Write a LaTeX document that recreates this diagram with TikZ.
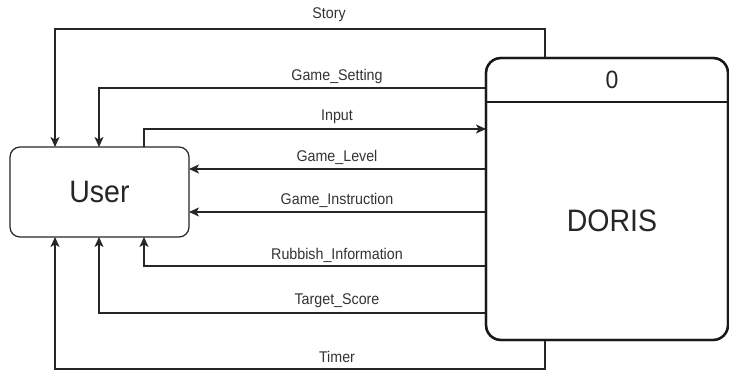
\documentclass[tikz,border=0pt]{standalone}
\usepackage{fontspec}
\setmainfont{Liberation Sans}
\newfontfamily\lblfont[FakeStretch=0.92]{Liberation Sans}
\usetikzlibrary{arrows.meta}
\tikzset{
  conn/.style={draw=black!85, line width=1.1pt},
  arr/.style={conn, -{Stealth[length=10pt,width=9pt,inset=2.5pt]}},
  flowlbl/.style={font=\lblfont\fontsize{15.5}{17}\selectfont, text=black!80, inner sep=0pt},
  bigtext/.style={font=\lblfont\fontsize{31}{34}\selectfont, text=black!85, inner sep=0pt},
  entity/.style={draw=black!85, line width=1.2pt, rounded corners=10pt, fill=white},
  process/.style={draw=black!90, line width=2.3pt, rounded corners=15pt, fill=white}
}
\begin{document}
\begin{tikzpicture}[x=1pt,y=-1pt]
\useasboundingbox (0,0) rectangle (729,372);
\fill[white] (0,0) rectangle (729,372);

% boxes
\node[entity, minimum width=179pt, minimum height=90pt, inner sep=0pt, outer sep=0pt] (user) at (99.5,192) {};
\node[bigtext] (userlbl) at (99.5,192) {User};
\node[process, minimum width=242pt, minimum height=282pt, inner sep=0pt, outer sep=0pt] (doris) at (607,199) {};
\coordinate (div) at (0,102);
\draw[draw=black!90, line width=2pt] (doris.west |- div) -- (doris.east |- div);
\node[font=\lblfont\fontsize{25}{28}\selectfont, text=black!85, inner sep=0pt] (zero) at (612,80) {0};
\node[bigtext] (dorislbl) at (612,221) {DORIS};

% helper coordinates
\coordinate (xa) at (55,0);
\coordinate (xb) at (99,0);
\coordinate (xc) at (144,0);
\coordinate (xs) at (545,0);
\coordinate (ystory) at (0,29);
\coordinate (yset) at (0,88);
\coordinate (yin) at (0,129);
\coordinate (ylev) at (0,169);
\coordinate (yins) at (0,212);
\coordinate (yrub) at (0,266);
\coordinate (ytar) at (0,313);
\coordinate (ytim) at (0,369);

% Story
\draw[arr] (doris.north -| xs) -- (xs |- ystory) -- (xa |- ystory) -- (user.north -| xa);
% Game_Setting
\draw[arr] (doris.west |- yset) -- (xb |- yset) -- (user.north -| xb);
% Input
\draw[arr] (user.north -| xc) -- (xc |- yin) -- (doris.west |- yin);
% Game_Level
\draw[arr] (doris.west |- ylev) -- (user.east |- ylev);
% Game_Instruction
\draw[arr] (doris.west |- yins) -- (user.east |- yins);
% Rubbish_Information
\draw[arr] (doris.west |- yrub) -- (xc |- yrub) -- (user.south -| xc);
% Target_Score
\draw[arr] (doris.west |- ytar) -- (xb |- ytar) -- (user.south -| xb);
% Timer
\draw[arr] (doris.south -| xs) -- (xs |- ytim) -- (xa |- ytim) -- (user.south -| xa);

% redraw process border on top of connector ends
\draw[process, fill=none] (doris.north west) rectangle (doris.south east);
\draw[draw=black!90, line width=2pt] (doris.west |- div) -- (doris.east |- div);

% labels
\node[flowlbl] (lstory) at (329,15) {Story};
\node[flowlbl] (lset) at (337,76) {Game\_Setting};
\node[flowlbl] (lin) at (337,117) {Input};
\node[flowlbl] (llev) at (337,157) {Game\_Level};
\node[flowlbl] (lins) at (337,200) {Game\_Instruction};
\node[flowlbl] (lrub) at (337,255) {Rubbish\_Information};
\node[flowlbl] (ltar) at (337,301) {Target\_Score};
\node[flowlbl] (ltim) at (337,357) {Timer};
\end{tikzpicture}
\end{document}
